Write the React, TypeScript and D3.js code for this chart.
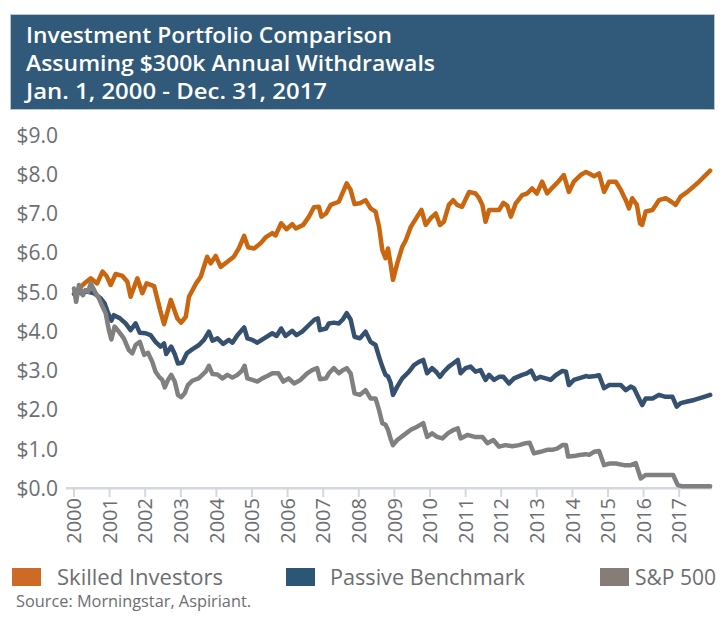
import React from "react";
import * as d3 from "d3";

// ---- Data (decimal years since Jan 1, 2000; values in $ millions) ----
const skilledT = [0.19,0.33,0.47,0.65,0.80,0.92,1.03,1.17,1.36,1.50,1.59,1.78,1.92,2.04,2.25,2.42,2.53,2.72,2.90,3.01,3.14,3.23,3.43,3.56,3.74,3.84,3.98,4.12,4.31,4.49,4.63,4.78,4.89,5.06,5.24,5.38,5.57,5.66,5.82,5.97,6.13,6.23,6.44,6.60,6.74,6.88,6.95,7.08,7.21,7.44,7.66,7.77,7.88,8.03,8.19,8.33,8.47,8.57,8.66,8.75,8.82,8.89,8.96,9.08,9.22,9.32,9.46,9.64,9.76,9.88,10.02,10.16,10.28,10.39,10.53,10.65,10.76,10.90,11.10,11.28,11.38,11.47,11.56,11.66,11.80,11.94,12.06,12.17,12.27,12.41,12.59,12.73,12.87,13.00,13.15,13.29,13.46,13.60,13.76,13.90,14.04,14.23,14.38,14.47,14.61,14.75,14.89,15.03,15.22,15.36,15.50,15.59,15.68,15.81,15.90,15.96,16.06,16.25,16.43,16.62,16.78,16.90,17.04,17.23,17.51,17.87];
const skilledV = [5.13,5.25,5.35,5.22,5.52,5.40,5.18,5.46,5.41,5.26,4.88,5.35,4.97,5.22,5.15,4.54,4.18,4.80,4.33,4.22,4.37,4.88,5.22,5.39,5.90,5.73,5.92,5.64,5.77,5.90,6.11,6.43,6.14,6.11,6.24,6.39,6.50,6.44,6.75,6.60,6.73,6.62,6.71,6.92,7.16,7.17,6.92,7.00,7.22,7.30,7.77,7.60,7.24,7.26,7.34,7.13,7.05,6.66,6.07,5.86,6.11,5.73,5.31,5.73,6.15,6.32,6.66,6.92,7.09,6.71,6.88,7.00,6.71,6.79,7.22,7.34,7.22,7.17,7.55,7.51,7.39,7.22,6.79,7.09,7.09,7.09,7.27,7.20,6.92,7.26,7.47,7.51,7.64,7.51,7.81,7.51,7.68,7.81,7.98,7.55,7.81,7.98,8.06,8.02,7.95,8.02,7.55,7.81,7.81,7.60,7.34,7.13,7.39,7.22,6.75,6.71,7.05,7.09,7.34,7.39,7.30,7.22,7.43,7.55,7.77,8.09];

const passiveT = [0.00,0.10,0.19,0.37,0.56,0.75,0.86,0.96,1.05,1.12,1.29,1.45,1.59,1.73,1.85,2.01,2.15,2.29,2.43,2.53,2.59,2.73,2.83,2.92,3.04,3.17,3.32,3.51,3.65,3.79,3.89,4.03,4.19,4.35,4.45,4.59,4.78,4.87,5.01,5.15,5.34,5.57,5.69,5.82,5.94,6.13,6.25,6.41,6.60,6.76,6.85,6.91,7.08,7.16,7.30,7.44,7.55,7.66,7.77,7.88,8.03,8.19,8.33,8.47,8.57,8.66,8.75,8.82,8.89,8.96,9.08,9.22,9.41,9.55,9.69,9.81,9.92,10.06,10.17,10.28,10.39,10.53,10.65,10.78,10.86,11.00,11.14,11.28,11.42,11.56,11.66,11.80,11.94,12.06,12.22,12.36,12.59,12.72,12.84,12.96,13.10,13.25,13.39,13.53,13.72,13.82,13.90,14.04,14.18,14.38,14.47,14.65,14.75,14.89,15.03,15.22,15.36,15.50,15.64,15.73,15.87,15.96,16.06,16.25,16.43,16.62,16.81,16.93,17.04,17.23,17.42,17.56,17.70,17.87];
const passiveV = [4.95,5.05,4.97,5.01,4.97,4.84,4.71,4.46,4.27,4.41,4.33,4.20,4.03,4.20,3.96,3.95,3.90,3.73,3.61,3.69,3.42,3.61,3.42,3.18,3.20,3.44,3.54,3.65,3.78,3.99,3.76,3.82,3.68,3.78,3.71,3.90,4.10,3.82,3.78,3.71,3.82,3.95,3.88,4.07,3.88,4.01,3.90,3.99,4.16,4.30,4.33,4.03,4.07,4.20,4.22,4.20,4.30,4.46,4.30,3.86,3.82,3.99,3.73,3.65,3.35,3.10,2.89,2.85,2.70,2.38,2.59,2.80,2.97,3.14,3.22,3.27,2.93,3.06,2.97,2.84,2.97,3.10,3.18,3.27,2.93,3.06,3.10,2.97,3.01,2.76,2.89,2.76,2.84,2.84,2.67,2.80,2.89,2.93,3.00,2.78,2.84,2.80,2.76,2.88,2.99,2.97,2.63,2.76,2.80,2.86,2.84,2.86,2.88,2.55,2.63,2.63,2.63,2.50,2.59,2.55,2.29,2.12,2.29,2.29,2.38,2.33,2.33,2.08,2.17,2.21,2.25,2.29,2.33,2.38];

const spT = [0.00,0.06,0.14,0.25,0.32,0.40,0.47,0.61,0.70,0.80,0.89,0.98,1.05,1.14,1.26,1.40,1.54,1.64,1.73,1.85,1.97,2.08,2.20,2.29,2.39,2.48,2.55,2.64,2.73,2.83,2.92,3.01,3.11,3.20,3.32,3.50,3.70,3.79,3.89,4.03,4.17,4.31,4.45,4.59,4.72,4.79,4.87,5.01,5.15,5.29,5.43,5.57,5.74,5.88,6.03,6.18,6.36,6.55,6.69,6.83,6.91,7.08,7.16,7.30,7.44,7.55,7.66,7.77,7.88,8.03,8.19,8.33,8.47,8.57,8.66,8.75,8.82,8.89,8.96,9.08,9.27,9.46,9.64,9.81,9.92,10.06,10.20,10.35,10.50,10.67,10.78,10.86,11.05,11.26,11.47,11.61,11.78,11.94,12.12,12.31,12.50,12.69,12.80,12.92,13.10,13.29,13.43,13.57,13.72,13.82,13.88,14.04,14.20,14.38,14.47,14.61,14.75,14.89,15.03,15.22,15.45,15.64,15.78,15.92,16.06,16.30,16.55,16.83,16.96,17.10,17.87];
const spV = [5.09,4.75,5.18,4.92,5.05,5.01,5.22,4.97,4.84,4.63,4.46,4.03,3.79,4.12,3.99,3.82,3.52,3.44,3.65,3.73,3.40,3.45,3.22,2.97,2.84,2.76,2.57,2.76,2.89,2.72,2.38,2.32,2.42,2.63,2.74,2.80,2.97,3.12,2.91,2.90,2.80,2.89,2.82,2.89,3.00,3.12,2.80,2.76,2.72,2.80,2.86,2.93,2.93,2.72,2.80,2.67,2.76,2.93,3.01,3.06,2.78,2.80,2.93,3.06,2.93,3.01,3.06,2.93,2.42,2.38,2.50,2.29,2.29,1.99,1.66,1.62,1.49,1.27,1.10,1.23,1.36,1.49,1.57,1.66,1.31,1.40,1.31,1.27,1.40,1.49,1.53,1.27,1.36,1.31,1.31,1.15,1.23,1.06,1.10,1.07,1.10,1.15,1.16,0.89,0.93,0.98,0.98,1.01,1.10,1.10,0.81,0.82,0.85,0.87,0.85,0.93,0.95,0.59,0.63,0.63,0.59,0.59,0.64,0.25,0.34,0.34,0.34,0.34,0.08,0.05,0.05];

const yearLabels = ["2000","2001","2002","2003","2004","2005","2006","2007","2008","2009","2010","2011","2012","2013","2014","2015","2016","2017"];
const yTickValues = [0,1,2,3,4,5,6,7,8,9];
const titleLines = ["Investment Portfolio Comparison","Assuming $300k Annual Withdrawals","Jan. 1, 2000 - Dec. 31, 2017"];
const seriesNames = ["Skilled Investors","Passive Benchmark","S&P 500"];

const FONT = "'Open Sans', 'Noto Sans', sans-serif";

export default function App() {
  const x = d3.scaleLinear().domain([0, 18]).range([74, 714.8]);
  const y = d3.scaleLinear().domain([0, 9]).range([488.3, 135]);
  const line = d3
    .line<[number, number]>()
    .x((d) => x(d[0]))
    .y((d) => y(d[1]));
  const zip = (t: number[], v: number[]) => t.map((tt, i) => [tt, v[i]] as [number, number]);

  const series = [
    { name: seriesNames[0], pts: zip(skilledT, skilledV), color: "#c9660f" },
    { name: seriesNames[1], pts: zip(passiveT, passiveV), color: "#36516f" },
    { name: seriesNames[2], pts: zip(spT, spV), color: "#808080" },
  ];

  const titleWidths = [366, 409, 301];
  const legend = [
    { sx: 12, tx: 57, tw: 166, color: "#cd6b26", label: seriesNames[0] },
    { sx: 286, tx: 330, tw: 195, color: "#2b5675", label: seriesNames[1] },
    { sx: 600, tx: 635, tw: 81, color: "#867d79", label: seriesNames[2] },
  ];

  return (
    <svg
      width={725}
      height={622}
      style={{ position: "absolute", left: 0, top: 0, background: "#fff" }}
    >
      <rect x={0} y={0} width={725} height={622} fill="#fff" />
      {/* Title box */}
      <rect x={10.5} y={14.5} width={704} height={95} fill="#30597a" stroke="#b7c6d2" strokeWidth={1} />
      {titleLines.map((t, i) => (
        <text
          key={t}
          x={26}
          y={43 + i * 28}
          fill="#ffffff"
          fontFamily={FONT}
          fontWeight={600}
          fontSize={22}
          textLength={titleWidths[i]}
          lengthAdjust="spacingAndGlyphs"
        >
          {t}
        </text>
      ))}

      {/* Y axis labels */}
      {yTickValues.map((v) => (
        <text
          key={v}
          x={58}
          y={y(v)}
          dy="0.36em"
          textAnchor="end"
          fill="#6d6e71"
          fontFamily={FONT}
          fontSize={21}
        >
          {"$" + v.toFixed(1)}
        </text>
      ))}

      {/* X axis */}
      <line x1={66} x2={712} y1={488.3} y2={488.3} stroke="#d3d8e1" strokeWidth={2.5} />
      {yearLabels.map((lab, i) => (
        <g key={lab} transform={`translate(${x(i)},0)`}>
          <line y1={488.3} y2={497} stroke="#d3d8e1" strokeWidth={2} />
          <text
            transform={`translate(0,498) rotate(-90)`}
            textAnchor="end"
            dy="0.36em"
            fill="#6d6e71"
            fontFamily={FONT}
            fontSize={20}
          >
            {lab}
          </text>
        </g>
      ))}

      {/* Lines */}
      {series.map((s) => (
        <path
          key={s.name}
          d={line(s.pts) || ""}
          fill="none"
          stroke={s.color}
          strokeWidth={4.5}
          strokeLinejoin="round"
          strokeLinecap="round"
        />
      ))}

      {/* Legend */}
      {legend.map((l) => (
        <g key={l.label}>
          <rect x={l.sx} y={568} width={29} height={18} fill={l.color} />
          <text
            x={l.tx}
            y={585}
            fill="#6d6e71"
            fontFamily={FONT}
            fontSize={22}
            textLength={l.tw}
            lengthAdjust="spacingAndGlyphs"
          >
            {l.label}
          </text>
        </g>
      ))}
      <text
        x={16}
        y={607}
        fill="#6d6e71"
        fontFamily={FONT}
        fontSize={17}
        textLength={235}
        lengthAdjust="spacingAndGlyphs"
      >
        Source: Morningstar, Aspiriant.
      </text>
    </svg>
  );
}
